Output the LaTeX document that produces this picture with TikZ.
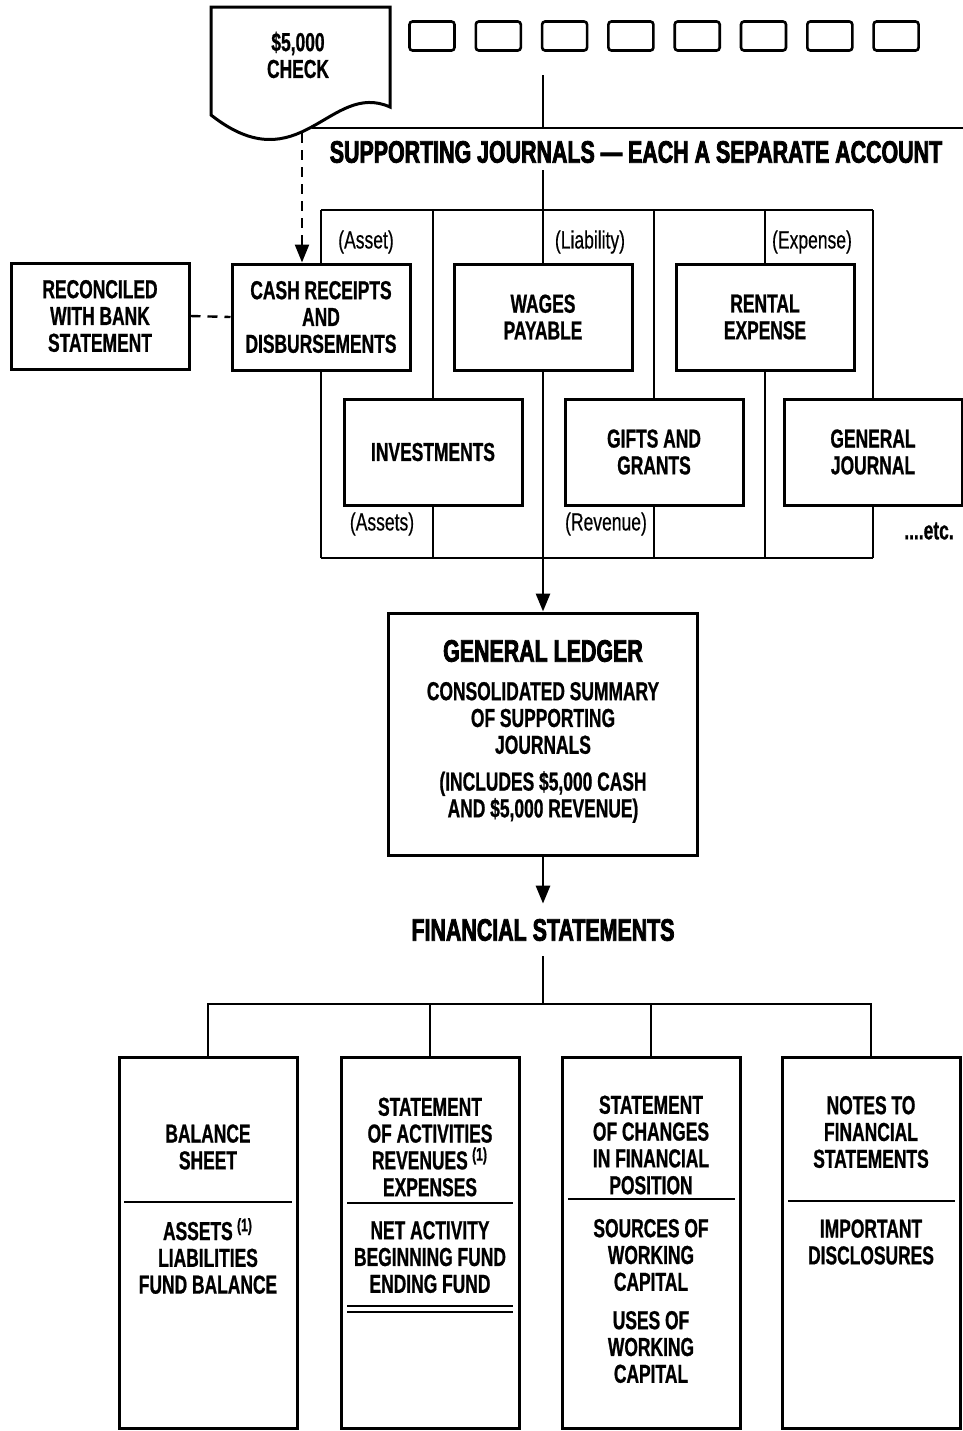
\documentclass[tikz,border=0pt]{standalone}
\usepackage{fontspec}
\usetikzlibrary{arrows.meta}
\newfontfamily\boxfont{Liberation Sans Bold}[FakeStretch=0.67,FakeBold=0.8]
\newfontfamily\heavyfont{Liberation Sans Bold}[FakeStretch=0.69,FakeBold=2.5]
\newfontfamily\labelfont{Liberation Sans}[FakeStretch=0.7,FakeBold=0.4]
\tikzset{
  boite/.style={draw, line width=1.5pt, minimum width=89pt, minimum height=53pt, align=center, inner sep=1pt, font=\boxfont\fontsize{13}{13.4}\selectfont},
  etat/.style={draw, line width=1.5pt, minimum width=89pt, minimum height=185.5pt},
  petit/.style={draw, line width=1.3pt, rounded corners=1.5pt, minimum width=22.5pt, minimum height=14.5pt},
  texte/.style={align=center, inner sep=0pt, font=\boxfont\fontsize{13}{13.4}\selectfont},
  titre/.style={inner sep=0pt, font=\heavyfont\fontsize{15.5}{16}\selectfont},
  compte/.style={inner sep=0pt, font=\labelfont\fontsize{12.5}{13}\selectfont},
  pointes/.style={-{Triangle[width=7pt,length=9pt]}},
  tirets/.style={line width=1.2pt, dash pattern=on 5pt off 3.5pt},
}
\begin{document}
\begin{tikzpicture}[x=0.5pt,y=-0.5pt,line width=1.4pt]
  \useasboundingbox (0,0) rectangle (963,1431);

  % Le cheque et les petites cases (haut)
  \draw[line width=1.5pt] (211,7) -- (390,7) -- (390,107)
    .. controls (330,80) and (300,185) .. (211,115) -- cycle;
  \node[texte] (CK) at (298,55) {\$5,000\\CHECK};
  \foreach \i in {1,...,8}
    \node[petit] (B\i) at ({432+66.3*(\i-1)},36) {};

  % Le filet et le titre des journaux
  \coordinate (P0) at (312,128);
  \coordinate (P1) at (963,128);
  \draw (P0) -- (P1);
  \node[titre] (H) at (636,152) {SUPPORTING JOURNALS \textemdash{} EACH A SEPARATE ACCOUNT};
  \coordinate (A0) at (543,75);
  \coordinate (A1) at (543,170);
  \draw (A0) -- (A0 |- P0);

  % Les journaux (une colonne par compte)
  \node[boite] (RC) at (100,316) {RECONCILED\\WITH BANK\\STATEMENT};
  \node[boite] (J1) at (321,317) {CASH RECEIPTS\\AND\\DISBURSEMENTS};
  \node[boite] (J2) at (543,317) {WAGES\\PAYABLE};
  \node[boite] (J3) at (765,317) {RENTAL\\EXPENSE};
  \node[boite] (J4) at (433,452) {INVESTMENTS};
  \node[boite] (J5) at (654,452) {GIFTS AND\\GRANTS};
  \node[boite] (J6) at (873,452) {GENERAL\\JOURNAL};
  \coordinate (F0) at (0,210);
  \coordinate (F1) at (0,558);
  \foreach \j in {1,...,6}
    \draw (J\j.north |- F0) -- (J\j.north) (J\j.south) -- (J\j.south |- F1);
  \draw (J1.north |- F0) -- (J6.north |- F0); % haut du cadre
  \draw (J1.south |- F1) -- (J6.south |- F1); % bas du cadre
  \draw (A1) -- (J2.north);

  % Les types de compte
  \node[compte] (L1) at (366,242) {(Asset)};
  \node[compte] (L2) at (590,242) {(Liability)};
  \node[compte] (L3) at (812,242) {(Expense)};
  \node[compte] (L4) at (382,524) {(Assets)};
  \node[compte] (L5) at (606,524) {(Revenue)};
  \node[texte] (L6) at (929,531) {....etc.};

  % Liens en tirets
  \coordinate (K0) at (302,133);
  \draw[tirets,pointes] (K0) -- (K0 |- J1.north);
  \draw[tirets] (RC.east) -- (J1.west);

  % Le grand livre
  \node[draw, line width=1.5pt, minimum width=154.5pt, minimum height=121pt] (GL) at (543,734) {};
  \node[titre] (GLa) at (543,651) {GENERAL LEDGER};
  \node[texte] (GLb) at (543,718) {CONSOLIDATED SUMMARY\\OF SUPPORTING\\JOURNALS};
  \node[texte] (GLc) at (543,797) {(INCLUDES \$5,000 CASH\\AND \$5,000 REVENUE)};
  \draw[pointes] (J2.south |- F1) -- (GL.north);

  % Les etats financiers
  \node[titre, inner ysep=7pt] (FS) at (543,930) {FINANCIAL STATEMENTS};
  \draw[pointes] (GL.south) -- (FS.north);
  \node[etat] (S1) at (208,1243) {};
  \node[etat] (S2) at (430,1243) {};
  \node[etat] (S3) at (651,1243) {};
  \node[etat] (S4) at (871,1243) {};
  \coordinate (FJ) at (543,1004);
  \draw (FS.south) -- (FJ);
  \draw (S1.north) |- (FJ) -| (S4.north);
  \draw (S2.north) -- (S2.north |- FJ);
  \draw (S3.north) -- (S3.north |- FJ);
  \foreach \xa/\xb/\y in {124/292/1202, 347/513/1203, 568/735/1199, 788/955/1201}
    \draw[line width=1.3pt] (\xa,\y) -- (\xb,\y);
  \draw[line width=1pt] (347,1306) -- (513,1306) (347,1312) -- (513,1312); % double trait

  % Textes des etats
  \node[texte] (T1a) at (208,1147) {BALANCE\\SHEET};
  \node[texte] (T1b) at (208,1256) {ASSETS\,\textsuperscript{(1)}\\LIABILITIES\\FUND BALANCE};
  \node[texte] (T2a) at (430,1147) {STATEMENT\\OF ACTIVITIES\\REVENUES\,\textsuperscript{(1)}\\EXPENSES};
  \node[texte] (T2b) at (430,1257) {NET ACTIVITY\\BEGINNING FUND\\ENDING FUND};
  \node[texte] (T3a) at (651,1145) {STATEMENT\\OF CHANGES\\IN FINANCIAL\\POSITION};
  \node[texte] (T3b) at (651,1255) {SOURCES OF\\WORKING\\CAPITAL};
  \node[texte] (T3c) at (651,1347) {USES OF\\WORKING\\CAPITAL};
  \node[texte] (T4a) at (871,1132) {NOTES TO\\FINANCIAL\\STATEMENTS};
  \node[texte] (T4b) at (871,1242) {IMPORTANT\\DISCLOSURES};
\end{tikzpicture}
\end{document}
